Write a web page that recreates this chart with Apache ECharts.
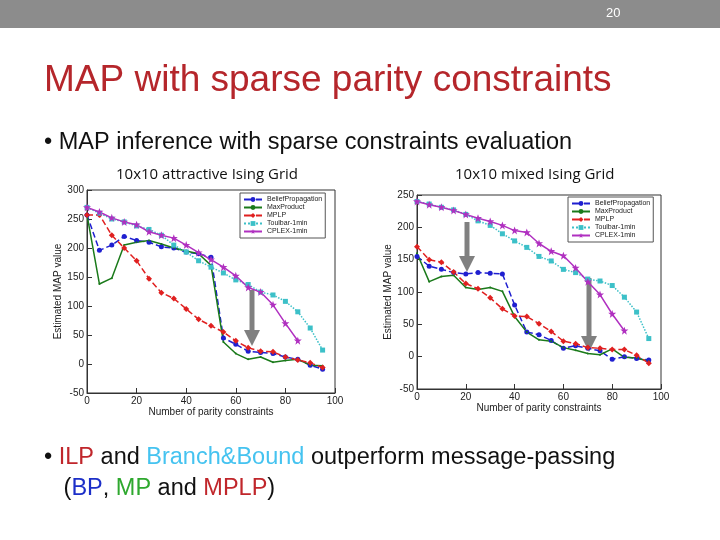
<!DOCTYPE html>
<html>
<head>
<meta charset="utf-8">
<script src="https://cdn.jsdelivr.net/npm/echarts@6/dist/echarts.min.js"></script>
<style>body{margin:0;background:#fff}#chart-panel{width:720px;height:540px}</style>
</head>
<body>
<div id="chart-panel"></div>
<script>
var xs = [0,5,10,15,20,25,30,35,40,45,50,55,60,65,70,75,80,85,90,95];
var names = ['BeliefPropagation','MaxProduct','MPLP','Toulbar-1min','CPLEX-1min'];
// 10x10 attractive
var bpA = [257,196,205,220,213,210,202,200,193,190,184,45,34,22,20,18,12,8,-2,-9];
var mpA = [257,138,148,205,210,213,207,200,195,190,170,38,18,8,12,3,6,8,-2,-3];
var mplpA = [257,257,222,200,178,147,123,113,95,77,66,55,40,28,22,21,12,7,2,-6];
var tbA = [270,260,250,245,238,232,222,205,193,178,167,157,145,137,124,119,108,90,62,24];
var cpA = [270,262,252,245,240,228,222,217,205,192,180,167,152,132,124,102,70,40];
// 10x10 mixed
var bpB = [155,140,135,130,128,130,129,128,80,38,34,25,13,17,13,9,-4,0,-3,-5];
var mpB = [160,116,124,126,107,104,107,101,62,38,26,24,14,10,5,3,12,-1,-2,-7];
var mplpB = [170,150,146,131,113,105,91,74,63,62,51,39,24,20,14,13,11,11,2,-10];
var tbB = [240,236,231,227,220,210,203,190,179,169,155,148,135,130,120,117,110,92,69,28];
var cpB = [240,235,231,226,220,214,209,203,195,192,175,163,156,137,116,96,66,40];

var styles = [
  {color:'#1f1fd0', type:'dashed', symbol:'circle', size:5},
  {color:'#1a7a1a', type:'solid', symbol:'circle', size:2},
  {color:'#e02020', type:'dashed', symbol:'diamond', size:6},
  {color:'#3cc0c8', type:'dotted', symbol:'rect', size:5},
  {color:'#b030c0', type:'solid', symbol:'path://M0,-10L2.5,-3L10,-3L4,2L6,10L0,5L-6,10L-4,2L-10,-3L-2.5,-3Z', size:8}
];

function pair(arr){ return arr.map(function(v,i){ return [xs[i], v]; }); }
function mkSeries(sets, idx){
  return sets.map(function(arr, k){
    var s = styles[k];
    return {name:names[k], type:'line', xAxisIndex:idx, yAxisIndex:idx, data:pair(arr),
      symbol:s.symbol, symbolSize:s.size, color:s.color,
      lineStyle:{color:s.color, width:1.5, type:s.type}, itemStyle:{color:s.color}};
  });
}
function axisX(i, gi){ return {type:'value', gridIndex:gi, min:0, max:100, interval:20,
  name:'Number of parity constraints', nameLocation:'middle', nameGap:13,
  nameTextStyle:{fontSize:10, color:'#222'}, axisLine:{onZero:false, lineStyle:{color:'#333'}},
  axisTick:{inside:true}, axisLabel:{fontSize:10, color:'#222', margin:3}, splitLine:{show:false}}; }
function axisY(max, gi){ return {type:'value', gridIndex:gi, min:-50, max:max, interval:50,
  name:'Estimated MAP value', nameLocation:'middle', nameGap:22,
  nameTextStyle:{fontSize:10, color:'#222'}, axisLine:{show:true, lineStyle:{color:'#333'}},
  axisTick:{inside:true}, axisLabel:{fontSize:10, color:'#222', margin:3}, splitLine:{show:false}}; }

var legendBase = {orient:'vertical', itemWidth:18, itemHeight:6, itemGap:1, padding:3,
  backgroundColor:'#fff', borderColor:'#555', borderWidth:1,
  textStyle:{fontSize:7, color:'#222'}, data:names};

var chart = echarts.init(document.getElementById('chart-panel'));
chart.setOption({
  animation:false,
  textStyle:{fontFamily:'Liberation Sans'},
  grid:[
    {left:87, right:385, top:190, bottom:147, show:true, borderColor:'#333', borderWidth:1},
    {left:417, right:59, top:195, bottom:151, show:true, borderColor:'#333', borderWidth:1}
  ],
  xAxis:[axisX(0,0), axisX(1,1)],
  yAxis:[axisY(300,0), axisY(250,1)],
  legend:[
    Object.assign({left:240, top:193}, legendBase),
    Object.assign({left:568, top:197}, legendBase)
  ],
  series: mkSeries([bpA,mpA,mplpA,tbA,cpA],0).concat(mkSeries([bpB,mpB,mplpB,tbB,cpB],1)),
  graphic:[
    {type:'rect', shape:{x:0,y:0,width:720,height:28}, style:{fill:'#8c8c8c'}},
    {type:'text', left:606, top:7, style:{text:'20', fill:'#fff', fontSize:13}},
    {type:'text', left:44, top:62, style:{text:'MAP with sparse parity constraints', fill:'#b5262b', fontSize:37}},
    {type:'text', left:44, top:131, style:{text:'• MAP inference with sparse constraints evaluation', fill:'#111', fontSize:23.5}},
    {type:'text', left:116, top:167, style:{text:'10x10 attractive Ising Grid', fill:'#111', fontSize:15, fontFamily:'Open Sans'}},
    {type:'text', left:455, top:167, style:{text:'10x10 mixed Ising Grid', fill:'#111', fontSize:15, fontFamily:'Open Sans'}},
    {type:'line', shape:{x1:252,y1:290,x2:252,y2:332}, style:{stroke:'#808080', lineWidth:5}},
    {type:'polygon', shape:{points:[[244,330],[260,330],[252,346]]}, style:{fill:'#808080'}},
    {type:'line', shape:{x1:467,y1:222,x2:467,y2:258}, style:{stroke:'#808080', lineWidth:5}},
    {type:'polygon', shape:{points:[[459,256],[475,256],[467,272]]}, style:{fill:'#808080'}},
    {type:'line', shape:{x1:589,y1:278,x2:589,y2:338}, style:{stroke:'#808080', lineWidth:5}},
    {type:'polygon', shape:{points:[[581,336],[597,336],[589,352]]}, style:{fill:'#808080'}},
    {type:'text', left:44, top:442, style:{
      text:'• {r|ILP} and {c|Branch&Bound} outperform message-passing\n   ({b|BP}, {g|MP} and {r|MPLP})',
      fill:'#111', fontSize:23.5, lineHeight:31,
      rich:{r:{fill:'#c0262b', fontSize:23.5}, c:{fill:'#45c3f0', fontSize:23.5}, b:{fill:'#1c2fc8', fontSize:23.5}, g:{fill:'#2ea82e', fontSize:23.5}}
    }}
  ]
});
</script>
</body>
</html>
